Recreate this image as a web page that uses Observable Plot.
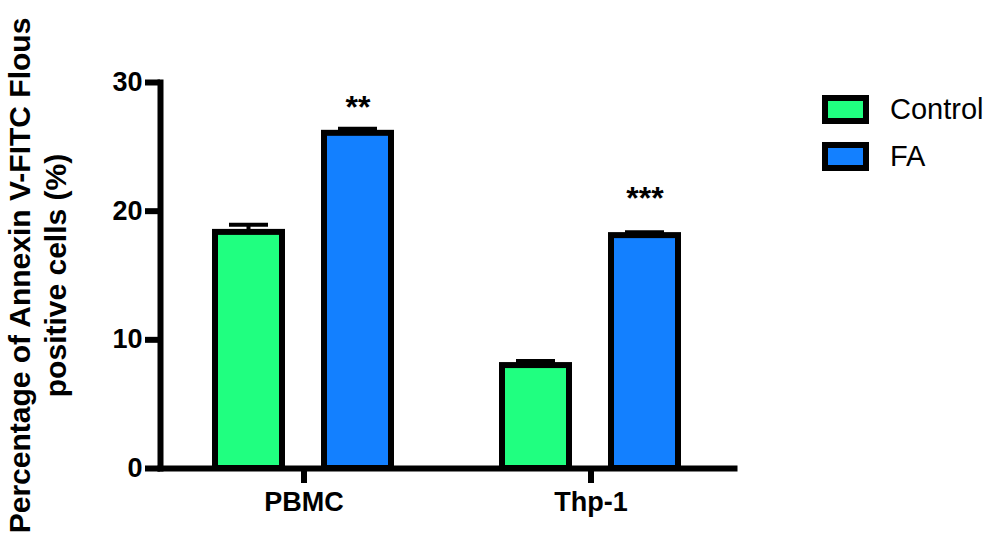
<!DOCTYPE html>
<html>
<head>
<meta charset="utf-8">
<script src="https://cdn.jsdelivr.net/npm/d3@7"></script>
<script src="https://cdn.jsdelivr.net/npm/@observablehq/plot@0.6"></script>
<style>
  html, body { margin: 0; padding: 0; background: #fff; }
  #wrap { position: relative; width: 993px; height: 541px; font-family: "Liberation Sans", Arial, sans-serif; }
  #legend { position: absolute; left: 822px; top: 95px; }
  .item { display: flex; align-items: center; height: 29px; margin-bottom: 17.7px; }
  .sw { box-sizing: border-box; width: 47px; height: 29px; border: 6px solid #000; }
  .lab { margin-left: 21px; font-size: 29px; color: #000; white-space: nowrap; }
</style>
</head>
<body>
<div id="wrap"></div>
<script>
// ---- data ----
const groups = ["PBMC", "Thp-1"];
const series = ["Control", "FA"];
const colors = ["#20ff80", "#1380ff"];
const controlValues = [18.35, 8.0];
const controlErrors = [0.6, 0.35];
const faValues = [26.05, 18.1];
const faErrors = [0.35, 0.27];
const sigLabels = ["**", "***"];
const sigY = [28, 21];
const yTicks = [0, 10, 20, 30];
const yLabel = "Percentage of Annexin V-FITC Flous\npositive cells (%)";

const rows = [];
groups.forEach((g, i) => {
  rows.push({group: g, series: "Control", value: controlValues[i], err: controlErrors[i]});
  rows.push({group: g, series: "FA", value: faValues[i], err: faErrors[i]});
});
const sig = groups.map((g, i) => ({group: g, label: sigLabels[i], y: sigY[i]}));

const W = 993, H = 541;
const mL = 160, mR = 259, mT = 82, mB = 73;
const band = (W - mL - mR) / groups.length;
const offsets = {Control: -55, FA: 54};
const barW = 67, capW = 39, stemW = 4;

const marks = [];
for (const s of series) {
  const d = rows.filter(r => r.series === s);
  const dx = offsets[s];
  marks.push(Plot.barY(d, {x: "group", y1: "value", y2: d => d.value + d.err, fill: "black", dx,
    insetLeft: (band - stemW) / 2, insetRight: (band - stemW) / 2}));
  marks.push(Plot.tickY(d, {x: "group", y: d => d.value + d.err, stroke: "black", strokeWidth: 4, dx,
    insetLeft: (band - capW) / 2, insetRight: (band - capW) / 2}));
  marks.push(Plot.barY(d, {x: "group", y: "value", fill: "series", stroke: "black", strokeWidth: 6, dx,
    insetLeft: (band - barW) / 2, insetRight: (band - barW) / 2}));
}
marks.push(Plot.text(sig, {x: "group", y: "y", text: "label", dx: offsets.FA, fontSize: 32, fontWeight: "bold", lineAnchor: "middle", fill: "black"}));
marks.push(Plot.frame({anchor: "left", stroke: "black", strokeWidth: 6, strokeLinecap: "square"}));
marks.push(Plot.frame({anchor: "bottom", stroke: "black", strokeWidth: 6, strokeLinecap: "square"}));
marks.push(Plot.axisY({ticks: yTicks, tickSize: 15, tickPadding: 3, strokeWidth: 6, fontSize: 27, fontWeight: "bold", label: null, fill: "black"}));
marks.push(Plot.axisX({tickSize: 15, tickPadding: 8, strokeWidth: 6, fontSize: 27, fontWeight: "bold", label: null, fill: "black"}));
marks.push(Plot.text([yLabel], {text: d => d, frameAnchor: "left", rotate: -90, dx: -124, fontSize: 30, fontWeight: "bold", lineHeight: 1.2, lineAnchor: "middle", textAnchor: "middle", fill: "black"}));

const chart = Plot.plot({
  width: W, height: H,
  marginLeft: mL, marginRight: mR, marginTop: mT, marginBottom: mB,
  style: {fontFamily: "'Liberation Sans', Arial, sans-serif", color: "black", background: "white", overflow: "visible"},
  x: {domain: groups, padding: 0, axis: null},
  y: {domain: [0, 30], axis: null},
  color: {domain: series, range: colors},
  marks
});
const wrap = document.getElementById("wrap");
wrap.appendChild(chart);

const legend = document.createElement("div");
legend.id = "legend";
series.forEach((s, i) => {
  const item = document.createElement("div");
  item.className = "item";
  const sw = document.createElement("div");
  sw.className = "sw";
  sw.style.background = colors[i];
  const lab = document.createElement("span");
  lab.className = "lab";
  lab.textContent = s;
  item.appendChild(sw);
  item.appendChild(lab);
  legend.appendChild(item);
});
wrap.appendChild(legend);
</script>
</body>
</html>
